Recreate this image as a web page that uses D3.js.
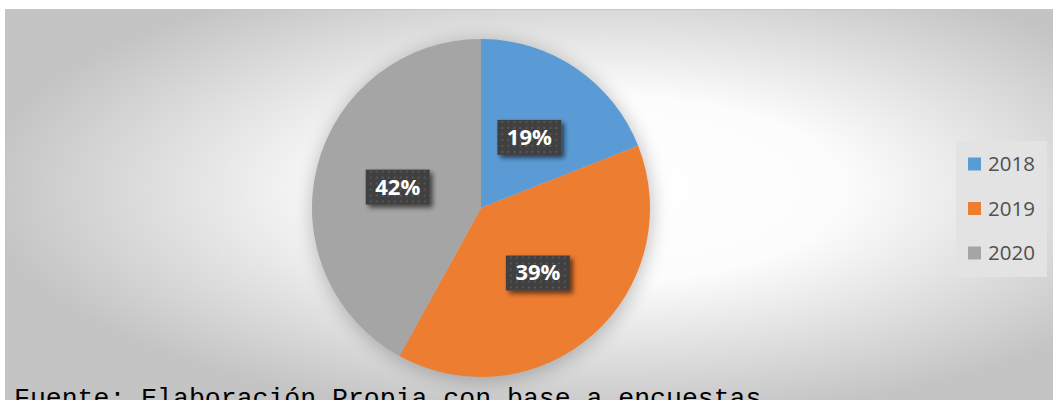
<!DOCTYPE html>
<html><head><meta charset="utf-8">
<script src="https://cdn.jsdelivr.net/npm/d3@7"></script>
<style>html,body{margin:0;padding:0;background:#fff;overflow:hidden}</style>
</head><body>
<svg id="c" width="1053" height="400"></svg>
<script>
const categories = ["2018", "2019", "2020"];
const values = [19, 39, 42];
const labels = ["19%", "39%", "42%"];
const colors = ["#5b9bd5", "#ed7d31", "#a5a5a5"];
const footer = "Fuente: Elaboración Propia con base a encuestas";

const svg = d3.select("#c");
const defs = svg.append("defs");

const bg = defs.append("radialGradient").attr("id","bg")
  .attr("cx",0.56).attr("cy",0.45).attr("r",0.58);
bg.append("stop").attr("offset",0).attr("stop-color","#ffffff");
bg.append("stop").attr("offset",0.4).attr("stop-color","#fcfcfc");
bg.append("stop").attr("offset",1).attr("stop-color","#c4c4c4");

const sh = defs.append("filter").attr("id","pieShadow").attr("x","-30%").attr("y","-30%").attr("width","160%").attr("height","160%");
sh.append("feGaussianBlur").attr("stdDeviation",9);

const bsh = defs.append("filter").attr("id","boxShadow").attr("x","-30%").attr("y","-30%").attr("width","160%").attr("height","160%");
bsh.append("feGaussianBlur").attr("in","SourceAlpha").attr("stdDeviation",2.5).attr("result","b");
bsh.append("feOffset").attr("in","b").attr("dx",3).attr("dy",3).attr("result","o");
bsh.append("feComponentTransfer").attr("in","o").attr("result","o2")
  .append("feFuncA").attr("type","linear").attr("slope",0.6);
const mg = bsh.append("feMerge");
mg.append("feMergeNode").attr("in","o2");
mg.append("feMergeNode").attr("in","SourceGraphic");

const pat = defs.append("pattern").attr("id","dots").attr("patternUnits","userSpaceOnUse")
  .attr("width",6).attr("height",6);
pat.append("rect").attr("width",6).attr("height",6).attr("fill","#404040");
pat.append("rect").attr("x",2).attr("y",2).attr("width",2).attr("height",2).attr("fill","#575757");

// chart area
svg.append("rect").attr("x",5).attr("y",9).attr("width",1060).attr("height",400)
  .attr("fill","url(#bg)");
svg.append("line").attr("x1",5).attr("x2",1053).attr("y1",9.5).attr("y2",9.5)
  .attr("stroke","#c8c8c8").attr("stroke-width",1);

const cx = 481, cy = 208, R = 169;
const g = svg.append("g").attr("transform",`translate(${cx},${cy})`);

g.append("circle").attr("r",R+2).attr("cx",1).attr("cy",3).attr("fill","#000").attr("opacity",0.22)
  .attr("filter","url(#pieShadow)");

const pie = d3.pie().sort(null).value(d=>d)(values);
const arc = d3.arc().innerRadius(0).outerRadius(R);
const labelArc = d3.arc().innerRadius(86).outerRadius(86);

g.selectAll("path.slice").data(pie).join("path").attr("class","slice")
  .attr("d",arc).attr("fill",(d,i)=>colors[i]);

const lg = g.selectAll("g.lab").data(pie).join("g").attr("class","lab")
  .attr("transform",d=>{const c=labelArc.centroid(d);return `translate(${c[0]},${c[1]})`;});
lg.append("rect").attr("x",-32).attr("y",-17).attr("width",64).attr("height",35)
  .attr("fill","url(#dots)").attr("filter","url(#boxShadow)");
lg.append("text").attr("text-anchor","middle").attr("dy","0.36em")
  .attr("font-family","'Open Sans', sans-serif").attr("font-weight",700)
  .attr("font-size",22).attr("fill","#ffffff").text((d,i)=>labels[i]);

// legend
const leg = svg.append("g");
leg.append("rect").attr("x",956).attr("y",141).attr("width",91).attr("height",136)
  .attr("fill","#e3e3e3");
const ly = d3.scalePoint().domain(categories).range([164,253]);
const li = leg.selectAll("g.li").data(categories).join("g").attr("class","li")
  .attr("transform",d=>`translate(968,${ly(d)})`);
li.append("rect").attr("x",0).attr("y",-6.5).attr("width",13).attr("height",13)
  .attr("fill",(d,i)=>colors[i]);
li.append("text").attr("x",20).attr("dy","0.36em")
  .attr("font-family","'Open Sans', sans-serif").attr("font-size",20.5)
  .attr("fill","#505050").text(d=>d);

svg.append("text").attr("x",14).attr("y",406)
  .attr("font-family","'Liberation Mono', monospace").attr("font-size",26.5)
  .attr("fill","#000").text(footer);
</script>
</body></html>
